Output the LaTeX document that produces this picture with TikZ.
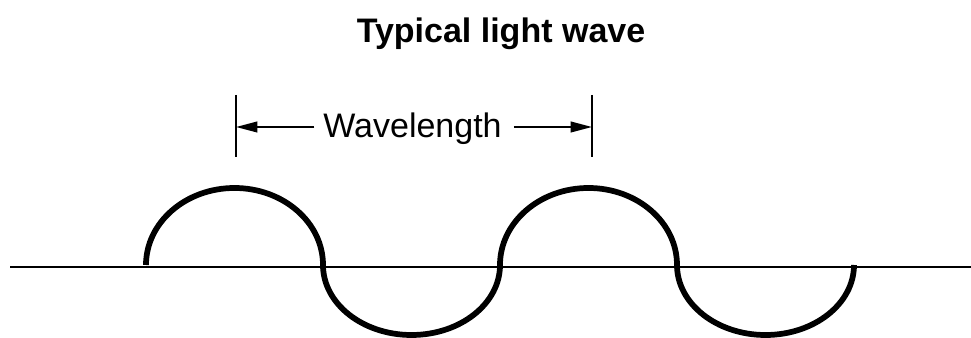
\documentclass[tikz,border=0pt]{standalone}
\usepackage{fontspec}
\setmainfont{Liberation Sans}
\usepackage{tikz}
\usetikzlibrary{arrows.meta}

\begin{document}
\begin{tikzpicture}[x={(0.75pt,0)}, y={(0,0.75pt)},
    axis/.style={line width=1.5pt},
    wave/.style={line width=4.3pt},
    tick/.style={line width=1.2pt},
    dimarrow/.style={-{Triangle[length=16pt,width=8pt]}, line width=1.4pt},
    label/.style={font=\fontsize{25.5}{30}\selectfont, anchor=base, inner sep=0pt}]
    \useasboundingbox (0,0) rectangle (971,338);

    \node[label, font=\fontsize{25.5}{30}\selectfont\bfseries] (title) at (501,295) {Typical light wave};

    % wavelength marker
    \coordinate (tickLtop) at (236,243);
    \coordinate (tickLbot) at (236,181);
    \coordinate (tickRtop) at (592,243);
    \coordinate (tickRbot) at (592,181);
    \coordinate (aL) at (236,211);
    \coordinate (aR) at (592,211);
    \node[label] (wl) at (412.5,200) {Wavelength};
    \draw[tick] (tickLtop) -- (tickLbot);
    \draw[tick] (tickRtop) -- (tickRbot);
    \draw[dimarrow] ([xshift=-6.5pt]wl.west |- aL) -- (aL);
    \draw[dimarrow] ([xshift=9pt]wl.east |- aR) -- (aR);

    % axis and wave
    \coordinate (axL) at (10,71);
    \coordinate (axR) at (971,71);
    \draw[axis] (axL) -- (axR);
    \draw[wave] (146,73) arc[start angle=180, end angle=0, x radius=88.5, y radius=77]
                         arc[start angle=180, end angle=360, x radius=88.5, y radius=70]
                         arc[start angle=180, end angle=0, x radius=88.5, y radius=77]
                         arc[start angle=180, end angle=360, x radius=88.5, y radius=70];
\end{tikzpicture}
\end{document}
